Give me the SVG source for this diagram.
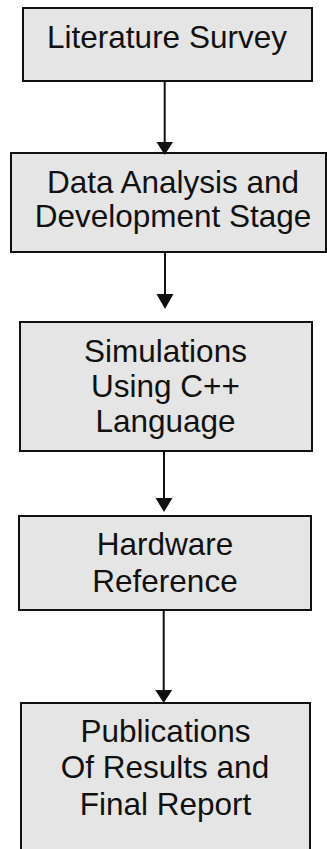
<svg xmlns="http://www.w3.org/2000/svg" width="327" height="849" viewBox="0 0 327 849">
<style>
.box{fill:#e5e5e5;stroke:#111;stroke-width:2}
.t{font-family:"Liberation Sans",Arial,sans-serif;font-size:31.5px;fill:#111;text-anchor:middle}
.c{stroke:#111;stroke-width:2;fill:none}
.h{fill:#111}
</style>
<rect width="327" height="849" fill="#fff"/>
<g id="n1"><rect class="box" x="23" y="8" width="289" height="73"/><text class="t" x="167" y="48">Literature Survey</text></g>
<g id="n2"><rect class="box" x="11" y="153" width="315" height="99"/><text class="t" x="173" y="193">Data Analysis and</text><text class="t" x="173" y="227">Development Stage</text></g>
<g id="n3"><rect class="box" x="20" y="322" width="292" height="129"/><text class="t" x="165.5" y="362">Simulations</text><text class="t" x="165.5" y="397">Using C++</text><text class="t" x="165.5" y="432">Language</text></g>
<g id="n4"><rect class="box" x="19" y="516" width="292" height="94"/><text class="t" x="165" y="555">Hardware</text><text class="t" x="165" y="592">Reference</text></g>
<g id="n5"><rect class="box" x="21" y="703" width="289" height="150"/><text class="t" x="165.5" y="742">Publications</text><text class="t" x="165" y="778">Of Results and</text><text class="t" x="165.5" y="815">Final Report</text></g>
<g id="connectors">
<line class="c" x1="164.7" y1="81" x2="164.7" y2="143"/><polygon class="h" points="156.5,142 173,142 164.7,155"/>
<line class="c" x1="165" y1="252" x2="165" y2="295"/><polygon class="h" points="156.5,294 173.5,294 165,309"/>
<line class="c" x1="164" y1="451" x2="164" y2="499"/><polygon class="h" points="155.5,498 172.5,498 164,512"/>
<line class="c" x1="163.7" y1="610" x2="163.7" y2="691"/><polygon class="h" points="155.2,690 172.2,690 163.7,703"/>
</g>
</svg>
